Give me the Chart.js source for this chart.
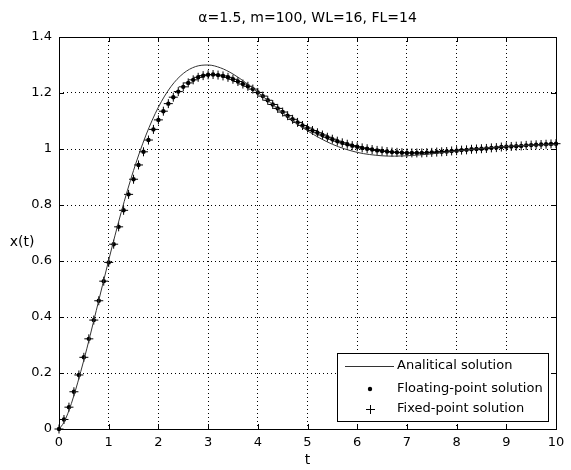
<!DOCTYPE html>
<html>
<head>
    <meta charset="UTF-8">
    <script src="https://cdn.jsdelivr.net/npm/chart.js"></script>
    <style>
        body { margin: 0; background: #fff; }
    </style>
</head>
<body>
    <canvas id="chart" width="571" height="470"></canvas>
    <script>
        // analytical solution
        const tAnalytic = [0, 0.1, 0.25, 0.5, 0.75, 1, 1.25, 1.5, 1.75, 2, 2.25, 2.5, 2.75, 3, 3.25, 3.5, 3.75, 4, 4.5, 5, 5.5, 6, 6.5, 6.75, 7, 7.5, 8, 8.5, 9, 9.5, 10];
        const xAnalytic = [0, 0.024, 0.0915, 0.246, 0.423, 0.603, 0.773, 0.9235, 1.0497, 1.1494, 1.2222, 1.2697, 1.2945, 1.300, 1.2898, 1.2679, 1.2377, 1.2029, 1.1296, 1.065, 1.017, 0.988, 0.9757, 0.9744, 0.9757, 0.9828, 0.9927, 1.0022, 1.0094, 1.0137, 1.0153];

        // numerical solutions (floating point and fixed point overlap), step 0.1
        const tNum = [0, 0.1, 0.2, 0.3, 0.4, 0.5, 0.6, 0.7, 0.8, 0.9,
            1, 1.1, 1.2, 1.3, 1.4, 1.5, 1.6, 1.7, 1.8, 1.9,
            2, 2.1, 2.2, 2.3, 2.4, 2.5, 2.6, 2.7, 2.8, 2.9,
            3, 3.1, 3.2, 3.3, 3.4, 3.5, 3.6, 3.7, 3.8, 3.9,
            4, 4.1, 4.2, 4.3, 4.4, 4.5, 4.6, 4.7, 4.8, 4.9,
            5, 5.1, 5.2, 5.3, 5.4, 5.5, 5.6, 5.7, 5.8, 5.9,
            6, 6.1, 6.2, 6.3, 6.4, 6.5, 6.6, 6.7, 6.8, 6.9,
            7, 7.1, 7.2, 7.3, 7.4, 7.5, 7.6, 7.7, 7.8, 7.9,
            8, 8.1, 8.2, 8.3, 8.4, 8.5, 8.6, 8.7, 8.8, 8.9,
            9, 9.1, 9.2, 9.3, 9.4, 9.5, 9.6, 9.7, 9.8, 9.9,
            10];
        const xFloat = [0, 0.034, 0.078, 0.133, 0.193, 0.256, 0.322, 0.389, 0.458, 0.528,
            0.595, 0.660, 0.722, 0.781, 0.838, 0.892, 0.943, 0.990, 1.032, 1.070,
            1.104, 1.135, 1.162, 1.185, 1.205, 1.222, 1.236, 1.247, 1.256, 1.262,
            1.265, 1.266, 1.264, 1.261, 1.256, 1.249, 1.241, 1.232, 1.224, 1.214,
            1.202, 1.189, 1.174, 1.159, 1.145, 1.132, 1.119, 1.106, 1.095, 1.084,
            1.075, 1.066, 1.058, 1.050, 1.042, 1.035, 1.028, 1.022, 1.017, 1.012,
            1.008, 1.004, 1.001, 0.998, 0.995, 0.993, 0.991, 0.989, 0.988, 0.987,
            0.986, 0.986, 0.986, 0.986, 0.987, 0.988, 0.989, 0.990, 0.991, 0.993,
            0.994, 0.996, 0.997, 0.999, 1.000, 1.001, 1.002, 1.004, 1.005, 1.007,
            1.008, 1.009, 1.010, 1.011, 1.013, 1.014, 1.015, 1.016, 1.017, 1.018,
            1.019];
        const xFixed = xFloat.slice();

        const chartTitle = "\u03b1=1.5, m=100, WL=16, FL=14";
        const xLabel = "t";
        const yLabel = "x(t)";
        const legendLabels = ["Analitical solution", "Floating-point solution", "Fixed-point solution"];

        const FONT = "DejaVu Sans";

        function pairs(xs, ys) {
            return xs.map((x, i) => ({x: x, y: ys[i]}));
        }

        // box, inward ticks, titles and legend drawn like matlab does
        const matlabFrame = {
            id: 'matlabFrame',
            afterDraw(chart) {
                const ctx = chart.ctx;
                const a = chart.chartArea;
                const sx = chart.scales.x, sy = chart.scales.y;
                ctx.save();
                ctx.strokeStyle = '#000';
                ctx.lineWidth = 1;
                ctx.beginPath();
                sx.ticks.forEach(t => {
                    const p = Math.round(sx.getPixelForValue(t.value)) + 0.5;
                    ctx.moveTo(p, a.bottom); ctx.lineTo(p, a.bottom - 5);
                    ctx.moveTo(p, a.top); ctx.lineTo(p, a.top + 5);
                });
                sy.ticks.forEach(t => {
                    const p = Math.round(sy.getPixelForValue(t.value)) + 0.5;
                    ctx.moveTo(a.left, p); ctx.lineTo(a.left + 5, p);
                    ctx.moveTo(a.right, p); ctx.lineTo(a.right - 5, p);
                });
                ctx.stroke();
                ctx.strokeRect(Math.round(a.left) + 0.5, Math.round(a.top) + 0.5,
                    Math.round(a.right - a.left), Math.round(a.bottom - a.top));

                ctx.fillStyle = '#000';
                ctx.textAlign = 'center';
                ctx.textBaseline = 'middle';
                ctx.font = '14px "' + FONT + '"';
                ctx.fillText(chartTitle, (a.left + a.right) / 2, 18);
                ctx.fillText(xLabel, (a.left + a.right) / 2, 460);
                ctx.fillText(yLabel, 22, 242);

                // legend
                const lx = 337, ly = 353, lw = 211, lh = 68;
                ctx.fillStyle = '#fff';
                ctx.fillRect(lx, ly, lw, lh);
                ctx.strokeStyle = '#000';
                ctx.strokeRect(lx + 0.5, ly + 0.5, lw, lh);
                const rows = [366, 389, 409];
                ctx.strokeStyle = '#333';
                ctx.beginPath();
                ctx.moveTo(345, rows[0] + 0.5); ctx.lineTo(394, rows[0] + 0.5);
                ctx.stroke();
                ctx.fillStyle = '#000';
                ctx.beginPath();
                ctx.arc(370, rows[1], 2.2, 0, Math.PI * 2);
                ctx.fill();
                ctx.strokeStyle = '#000';
                ctx.beginPath();
                ctx.moveTo(366, rows[2] + 0.5); ctx.lineTo(375, rows[2] + 0.5);
                ctx.moveTo(370.5, rows[2] - 4); ctx.lineTo(370.5, rows[2] + 5);
                ctx.stroke();
                ctx.font = '13px "' + FONT + '"';
                ctx.textAlign = 'left';
                legendLabels.forEach((s, i) => ctx.fillText(s, 397, rows[i]));
                ctx.restore();
            }
        };

        new Chart(document.getElementById('chart'), {
            type: 'scatter',
            data: {
                datasets: [
                    {
                        label: legendLabels[0],
                        data: pairs(tAnalytic, xAnalytic),
                        showLine: true,
                        borderColor: '#333',
                        borderWidth: 1,
                        pointRadius: 0,
                        cubicInterpolationMode: 'monotone',
                    },
                    {
                        label: legendLabels[1],
                        data: pairs(tNum, xFloat),
                        showLine: false,
                        pointStyle: 'circle',
                        pointRadius: 2.2,
                        backgroundColor: '#000',
                        borderColor: '#000',
                        borderWidth: 0,
                        clip: false,
                    },
                    {
                        label: legendLabels[2],
                        data: pairs(tNum, xFixed),
                        showLine: false,
                        pointStyle: 'cross',
                        pointRadius: 4.5,
                        borderColor: '#000',
                        borderWidth: 1,
                        clip: false,
                    },
                ],
            },
            options: {
                responsive: false,
                animation: false,
                layout: {padding: {top: 37, right: 15, left: 0, bottom: 0}},
                plugins: {
                    legend: {display: false},
                    tooltip: {enabled: false},
                },
                scales: {
                    x: {
                        type: 'linear',
                        min: 0,
                        max: 10,
                        afterFit: s => { s.height = 41; },
                        ticks: {stepSize: 1, color: '#000', padding: 6, font: {family: FONT, size: 13}},
                        grid: {color: '#000', lineWidth: 1, drawTicks: false},
                        border: {display: false, dash: [1, 3]},
                    },
                    y: {
                        min: 0,
                        max: 1.4,
                        afterFit: s => { s.width = 59; },
                        ticks: {
                            stepSize: 0.2,
                            color: '#000',
                            padding: 7,
                            font: {family: FONT, size: 13},
                            callback: v => String(Math.round(v * 10) / 10),
                        },
                        grid: {color: '#000', lineWidth: 1, drawTicks: false},
                        border: {display: false, dash: [1, 3]},
                    },
                },
            },
            plugins: [matlabFrame],
        });
    </script>
</body>
</html>
